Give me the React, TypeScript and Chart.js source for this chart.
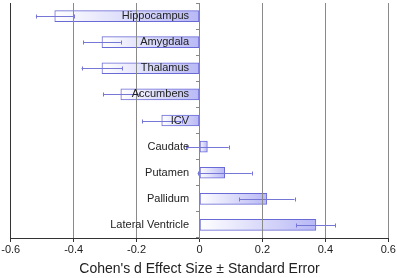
import React, { useEffect, useRef } from "react";
import { Chart, registerables } from "chart.js";

Chart.register(...registerables);

const categories = [
  "Hippocampus",
  "Amygdala",
  "Thalamus",
  "Accumbens",
  "ICV",
  "Caudate",
  "Putamen",
  "Pallidum",
  "Lateral Ventricle",
];
const effectSizes = [-0.46, -0.31, -0.31, -0.25, -0.12, 0.025, 0.08, 0.214, 0.37];
const standardErrors = [0.06, 0.06, 0.065, 0.057, 0.063, 0.068, 0.086, 0.088, 0.062];
const xTicks = [-0.6, -0.4, -0.2, 0, 0.2, 0.4, 0.6];

const FONT = "Arial, 'Liberation Sans', sans-serif";

const errorBarPlugin = {
  id: "errorBars",
  afterDatasetsDraw(chart: any) {
    const meta = chart.getDatasetMeta(0);
    const xs = chart.scales.x;
    const ctx = chart.ctx;
    ctx.save();
    ctx.strokeStyle = "#7676d6";
    ctx.lineWidth = 1;
    meta.data.forEach((bar: any, i: number) => {
      const v = effectSizes[i];
      const e = standardErrors[i];
      const x1 = xs.getPixelForValue(v - e);
      const x2 = xs.getPixelForValue(v + e);
      const y = Math.round(bar.y) + 0.5;
      ctx.beginPath();
      ctx.moveTo(x1, y);
      ctx.lineTo(x2, y);
      ctx.moveTo(Math.round(x1) + 0.5, y - 2);
      ctx.lineTo(Math.round(x1) + 0.5, y + 2);
      ctx.moveTo(Math.round(x2) + 0.5, y - 2);
      ctx.lineTo(Math.round(x2) + 0.5, y + 2);
      ctx.stroke();
    });
    ctx.restore();
  },
};

export default function App() {
  const ref = useRef<HTMLCanvasElement | null>(null);
  useEffect(() => {
    document.body.style.margin = "0";
    const canvas = ref.current!;
    const chart = new Chart(canvas, {
      type: "bar",
      data: {
        labels: categories,
        datasets: [
          {
            data: effectSizes,
            yAxisID: "y",
            backgroundColor: (c: any) => {
              const ch = c.chart;
              const xs = ch.scales.x;
              if (!xs || c.dataIndex === undefined) return "#c0c0f8";
              const v = effectSizes[c.dataIndex];
              const p0 = xs.getPixelForValue(0);
              const p1 = xs.getPixelForValue(v);
              if (!isFinite(p0) || !isFinite(p1)) return "#c0c0f8";
              const l = Math.min(p0, p1);
              const r = Math.max(p0, p1);
              const g = ch.ctx.createLinearGradient(l, 0, r + 0.01, 0);
              g.addColorStop(0, "#ffffff");
              g.addColorStop(1, "#b8b8f6");
              return g;
            },
            borderColor: "#6a6ad6",
            borderWidth: 1,
            borderSkipped: false,
            barThickness: 11,
          },
        ],
      },
      options: {
        indexAxis: "y",
        responsive: false,
        animation: false,
        layout: { padding: { left: 10.7, right: 8.7, top: 3, bottom: 0 } },
        plugins: {
          legend: { display: false },
          tooltip: { enabled: false },
        },
        scales: {
          x: {
            type: "linear",
            min: -0.6,
            max: 0.6,
            afterBuildTicks: (s: any) => {
              s.ticks = xTicks.map((v) => ({ value: v }));
            },
            afterFit: (s: any) => {
              s.paddingLeft = 0;
              s.paddingRight = 0;
            },
            ticks: {
              color: "#222",
              font: { family: FONT, size: 11 },
              padding: 1.5,
              callback: (v: any) => String(Math.round(Number(v) * 10) / 10),
            },
            grid: {
              color: (c: any) => (c.index === 0 ? "#333" : "#8a8a8a"),
              tickColor: "#333",
              tickLength: 4,
              z: 1,
            },
            border: { color: "#333", z: 1 },
            title: {
              display: true,
              text: "Cohen's d Effect Size ± Standard Error",
              color: "#222",
              font: { family: FONT, size: 14 },
              padding: { top: 3, bottom: 0 },
            },
          },
          y: {
            type: "category",
            position: { x: 0 } as any,
            offset: true,
            grid: {
              drawOnChartArea: false,
              tickLength: 3,
              tickColor: "#888",
              offset: true,
              z: 1,
            },
            border: { color: "#888", z: 1 },
            ticks: { display: false },
          },
          yLabels: {
            type: "category",
            axis: "y",
            position: { x: -0.033 } as any,
            offset: true,
            grid: { display: false, offset: true },
            border: { display: false },
            ticks: {
              z: 2,
              padding: 0,
              color: "#222",
              font: { family: FONT, size: 11, lineHeight: 0.4 },
            },
          },
        },
      } as any,
      plugins: [errorBarPlugin],
    });
    return () => chart.destroy();
  }, []);
  return (
    <div style={{ width: 397, height: 278 }}>
      <canvas ref={ref} width={397} height={278} style={{ display: "block" }} />
    </div>
  );
}
